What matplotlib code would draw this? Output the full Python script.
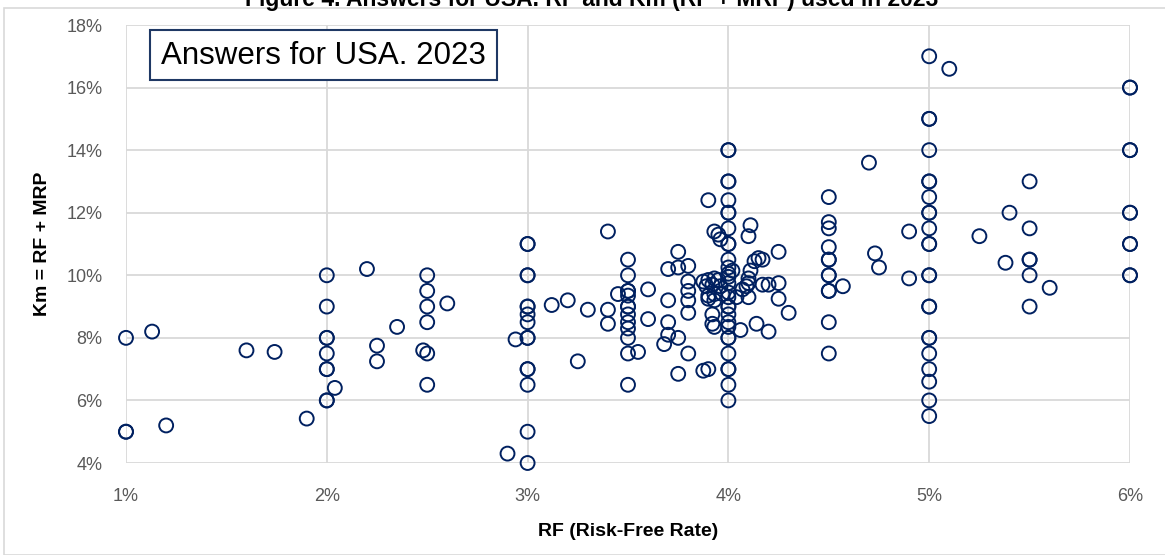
import matplotlib
matplotlib.use("Agg")
import matplotlib.pyplot as plt
from matplotlib.patches import Rectangle
from matplotlib.ticker import FuncFormatter

plt.rcParams['font.family'] = ['Liberation Sans', 'DejaVu Sans']

# Data: RF (%) and Km (%), grouped by RF value
groups = [
    (1.0, [8, 5, 5]),
    (1.13, [8.2]),
    (1.2, [5.2]),
    (1.6, [7.6]),
    (1.74, [7.55]),
    (1.9, [5.42]),
    (2.0, [10, 9, 8, 8, 7.5, 7, 7, 6, 6]),
    (2.04, [6.4]),
    (2.2, [10.2]),
    (2.25, [7.75, 7.25]),
    (2.35, [8.35]),
    (2.48, [7.6]),
    (2.5, [10, 9.5, 9, 8.5, 7.5, 6.5]),
    (2.6, [9.1]),
    (2.9, [4.3]),
    (2.94, [7.95]),
    (3.0, [11, 11, 10, 10, 9, 9, 8.75, 8.5, 8, 8, 7, 7, 6.5, 5, 4]),
    (3.12, [9.05]),
    (3.2, [9.2]),
    (3.25, [7.25]),
    (3.3, [8.9]),
    (3.4, [11.4, 8.9, 8.45]),
    (3.45, [9.4]),
    (3.5, [10.5, 10, 9.5, 9.5, 9.35, 9.0, 9.0, 8.75, 8.5, 8.3, 8.0, 7.5, 6.5]),
    (3.55, [7.55]),
    (3.6, [9.55, 8.6]),
    (3.68, [7.8]),
    (3.7, [10.2, 9.2, 8.5, 8.1]),
    (3.75, [10.75, 10.25, 8.0, 6.85]),
    (3.8, [10.3, 9.8, 9.5, 9.2, 8.8, 7.5]),
    (3.875, [9.8, 6.95]),
    (3.89, [9.65]),
    (3.9, [12.4, 9.85, 9.35, 9.25, 7.0]),
    (3.92, [9.7, 8.75, 8.45]),
    (3.93, [11.4, 9.9, 9.4, 9.2, 8.35]),
    (3.95, [11.3, 9.85]),
    (3.96, [11.15, 9.65]),
    (3.97, [9.4]),
    (4.0, [14, 14, 13, 13, 12.4, 12, 12, 11.5, 11, 11, 10.5, 10.25, 10.05, 9.95,
           9.75, 9.45, 9.3, 9, 9, 8.75, 8.5, 8.35, 8, 8, 7.5, 7, 7, 6.5, 6]),
    (4.02, [10.15]),
    (4.04, [9.3]),
    (4.06, [8.25]),
    (4.07, [9.55]),
    (4.09, [9.65]),
    (4.1, [11.25, 9.9, 9.75, 9.3]),
    (4.11, [11.6, 10.15]),
    (4.13, [10.45]),
    (4.14, [8.45]),
    (4.15, [10.55]),
    (4.17, [10.5, 9.7]),
    (4.2, [9.7, 8.2]),
    (4.25, [10.75, 9.75, 9.25]),
    (4.3, [8.8]),
    (4.5, [12.5, 11.7, 11.5, 10.9, 10.5, 10.5, 10, 10, 9.5, 9.5, 8.5, 7.5]),
    (4.57, [9.65]),
    (4.7, [13.6]),
    (4.73, [10.7]),
    (4.75, [10.25]),
    (4.9, [11.4, 9.9]),
    (5.0, [17, 15, 15, 14, 13, 13, 12.5, 12, 12, 11.5, 11, 11, 10, 10, 9, 9, 8, 8,
           7.5, 7, 6.6, 6, 5.5]),
    (5.1, [16.6]),
    (5.25, [11.25]),
    (5.38, [10.4]),
    (5.4, [12]),
    (5.5, [13, 11.5, 10.5, 10.5, 10, 9]),
    (5.6, [9.6]),
    (6.0, [16, 16, 14, 14, 12, 12, 11, 11, 10, 10]),
]
rf = [g[0] for g in groups for _ in g[1]]
km = [v for g in groups for v in g[1]]

x_ticks = [1, 2, 3, 4, 5, 6]
y_ticks = [4, 6, 8, 10, 12, 14, 16, 18]

title = "Figure 4. Answers for USA. RF and Km (RF + MRP) used in 2023"
box_text = "Answers for USA. 2023"
x_label = "RF (Risk-Free Rate)"
y_label = "Km = RF + MRP"

W, H = 1165, 555
fig = plt.figure(figsize=(W / 100, H / 100), dpi=100)
ax = fig.add_axes([126 / W, 1 - 463 / H, (1130 - 126) / W, (463 - 25) / H])

navy = "#002060"
grid_c = "#d9d9d9"

ax.scatter(rf, km, s=100, facecolors="none", edgecolors=navy, linewidths=1.4,
           zorder=3, clip_on=False)

ax.set_xlim(1, 6)
ax.set_ylim(4, 18)
ax.set_xticks(x_ticks)
ax.set_yticks(y_ticks)
fmt = FuncFormatter(lambda v, p: f"{v:.0f}%")
ax.xaxis.set_major_formatter(fmt)
ax.yaxis.set_major_formatter(fmt)
ax.grid(True, color=grid_c, linewidth=1.3, zorder=0)
ax.set_axisbelow(True)
for s in ax.spines.values():
    s.set_visible(False)
ax.tick_params(axis="both", length=0, labelsize=13, colors="#595959")
ax.tick_params(axis="y", pad=17)
ax.tick_params(axis="x", pad=18)

ax.set_xlabel(x_label, fontsize=14, fontweight="bold", labelpad=13)
ax.set_ylabel(y_label, fontsize=14, fontweight="bold", labelpad=11)

# Title (partially cut at the top, as in the reference)
fig.text(592 / W, 1 - 6 / H, title, ha="center", va="baseline",
         fontsize=16.5, fontweight="bold")

# Outer chart border
fig.patches.append(Rectangle((4 / W, 0), 1.2, 1 - 8 / H, transform=fig.transFigure,
                             fill=False, edgecolor=grid_c, linewidth=1.2))

# Annotation box
fig.patches.append(Rectangle((150 / W, 1 - 80 / H), 347 / W, 50 / H,
                             transform=fig.transFigure, facecolor="white",
                             edgecolor="#1F3864", linewidth=1.5, zorder=5))
fig.text(323.5 / W, 1 - 56 / H, box_text, ha="center", va="center",
         fontsize=22.5, zorder=6)

fig.savefig("out.png", dpi=100)
